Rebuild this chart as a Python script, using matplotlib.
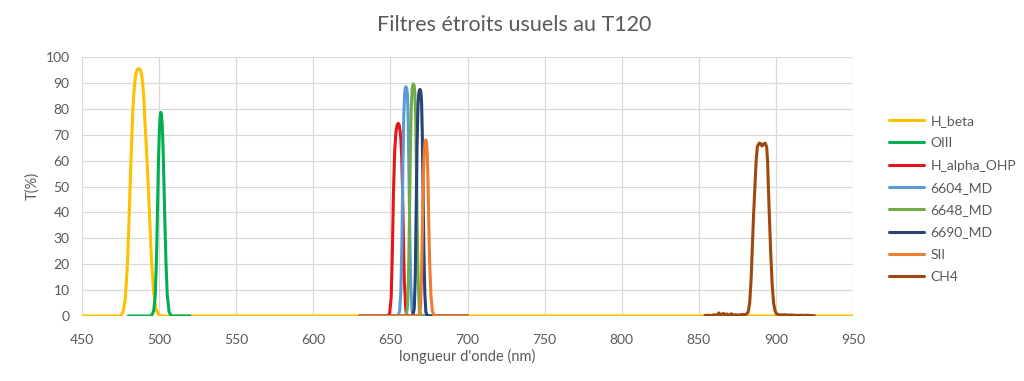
import matplotlib
matplotlib.use("Agg")
import matplotlib.pyplot as plt

plt.rcParams['font.family'] = ['Lato', 'DejaVu Sans']

# ---- data ----
series_names = ["H_beta", "OIII", "H_alpha_OHP", "6604_MD", "6648_MD", "6690_MD", "SII", "CH4"]

hbeta_wl = [450, 475, 476.5, 478, 479.5, 481, 482, 483, 484, 485, 486, 487, 488, 489, 490, 491, 492, 493,
            494, 495, 496.5, 498, 500, 502, 950]
hbeta_t = [0, 0, 1.5, 6, 20, 46, 64, 80, 89, 93.8, 95.3, 95.5, 94.8, 92, 85, 73, 62, 50,
           36, 22, 9, 2.5, 0.3, 0, 0]

oiii_wl = [480, 495, 496.5, 497.5, 498.3, 499, 499.6, 500.2, 500.7, 501.1, 501.6, 502.1, 502.6, 503.2,
           503.8, 504.5, 505.3, 506.5, 508, 520]
oiii_t = [0, 0, 2, 8, 22, 42, 60, 72, 77, 78.6, 77.5, 73, 64, 50, 35, 20, 8, 1.5, 0, 0]

halpha_wl = [630, 648, 649.5, 650.5, 651.3, 652, 652.8, 653.6, 654.4, 655.1, 655.8, 656.6, 657.3, 657.9,
             658.4, 659, 660, 661, 700]
halpha_t = [0, 0, 1, 7, 25, 48, 64, 71, 73.8, 74.4, 73.5, 70, 62, 48, 32, 14, 2, 0, 0]

md6604_wl = [630, 655, 656, 656.8, 657.5, 658.1, 658.7, 659.3, 659.7, 660.1, 660.6, 661.1, 661.6, 662.1,
             662.6, 663.2, 664, 665, 700]
md6604_t = [0, 0, 2, 10, 30, 58, 78, 86, 88.2, 88.5, 87.8, 85, 74, 52, 30, 12, 2, 0, 0]

md6648_wl = [630, 660, 661, 661.7, 662.3, 662.9, 663.5, 664.1, 664.5, 664.9, 665.4, 665.9, 666.4, 666.9,
             667.4, 668, 668.8, 670, 700]
md6648_t = [0, 0, 3, 14, 36, 62, 80, 87.5, 89.2, 89.6, 89, 86, 76, 56, 34, 14, 2, 0, 0]

md6690_wl = [630, 664.5, 665.5, 666.1, 666.7, 667.3, 667.9, 668.4, 668.8, 669.2, 669.7, 670.2, 670.7,
             671.2, 671.7, 672.3, 673, 674, 700]
md6690_t = [0, 0, 3, 15, 40, 66, 81, 86, 87.2, 87.5, 86.8, 83, 70, 48, 26, 9, 1.5, 0, 0]

sii_wl = [630, 668.5, 669.5, 670.2, 670.8, 671.4, 672, 672.5, 672.9, 673.4, 673.9, 674.4, 674.9, 675.5,
          676.3, 677.2, 678.5, 700]
sii_t = [0, 0, 3, 15, 35, 54, 64, 67.5, 68, 67.3, 63, 52, 36, 20, 8, 2, 0, 0]

ch4_wl = [854, 856, 858, 860, 862, 863, 864, 866, 867, 868, 870, 871, 872, 874, 876, 878, 880, 881,
          882, 883, 884, 884.8, 885.6, 886.4, 887.2, 888, 889.3, 890.2, 891, 892, 893.1, 894, 894.6,
          895.1, 895.8, 896.6, 897.5, 898.5, 899.5, 900.5, 902, 904, 906, 908, 910, 912, 914, 916, 918,
          920, 922, 925]
ch4_t = [0.2, 0.3, 0.1, 0.5, 0.3, 1.2, 0.4, 1.0, 0.3, 0.8, 0.2, 0.9, 0.4, 0.5, 0.3, 0.6, 0.5, 0.8,
         1.5, 5, 15, 28, 40, 50, 60, 65.5, 66.8, 66.5, 65.6, 66.4, 66.7, 65.3, 60,
         50, 38, 25, 13, 5, 1.8, 0.8, 0.5, 0.4, 0.5, 0.3, 0.4, 0.3, 0.2, 0.3, 0.2,
         0.3, 0.2, 0.1]

series_wl = [hbeta_wl, oiii_wl, halpha_wl, md6604_wl, md6648_wl, md6690_wl, sii_wl, ch4_wl]
series_t = [hbeta_t, oiii_t, halpha_t, md6604_t, md6648_t, md6690_t, sii_t, ch4_t]
colors = ["#FFC000", "#00B050", "#E8141B", "#5B9BD5", "#70AD47", "#264478", "#ED7D31", "#9E480E"]

x_ticks = [450, 500, 550, 600, 650, 700, 750, 800, 850, 900, 950]
y_ticks = [0, 10, 20, 30, 40, 50, 60, 70, 80, 90, 100]

# ---- figure ----
W, H = 1024, 381
fig = plt.figure(figsize=(W / 100, H / 100), dpi=100)
ax = fig.add_axes([82 / W, 1 - 316 / H, (853 - 82) / W, (316 - 57) / H])

for wl, t, c, name in zip(series_wl, series_t, colors, series_names):
    ax.plot(wl, t, color=c, lw=2.2, label=name, solid_joinstyle='round', solid_capstyle='round')

ax.set_xlim(450, 950)
ax.set_ylim(0, 100)
ax.set_xticks(x_ticks)
ax.set_yticks(y_ticks)
ax.grid(True, color="#D9D9D9", lw=0.9)
ax.set_axisbelow(True)
for s in ax.spines.values():
    s.set_visible(False)
ax.tick_params(length=0, labelsize=10, labelcolor="#595959")
ax.tick_params(axis='x', pad=13)
ax.tick_params(axis='y', pad=9)

fig.text(467 / W, 1 - 356 / H, "longueur d'onde (nm)", ha='center', va='center',
         fontsize=10.5, color="#595959")
fig.text(32 / W, 1 - 186 / H, "T(%)", ha='center', va='center', rotation=90,
         fontsize=10.5, color="#595959")
fig.text(514 / W, 1 - 25 / H, "Filtres étroits usuels au T120", ha='center', va='center',
         fontsize=15.5, color="#595959")

leg = fig.legend(loc='center left', bbox_to_anchor=(889 / W, 1 - 199 / H), frameon=False,
                 fontsize=10, handlelength=2.5, handletextpad=0.5, labelspacing=0.74,
                 borderpad=0, borderaxespad=0)
for txt in leg.get_texts():
    txt.set_color("#595959")

fig.savefig("out.png", dpi=100)
